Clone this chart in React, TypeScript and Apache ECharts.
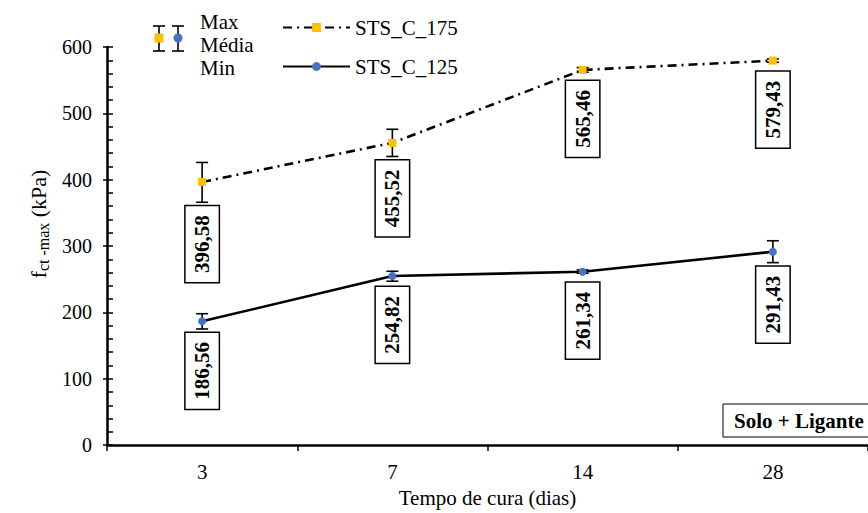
import React, { useEffect, useRef } from 'react';
import * as echarts from 'echarts';

const categories = ['3', '7', '14', '28'];
const sts175Mean = [396.58, 455.52, 565.46, 579.43];
const sts175Max = [426, 476, 569, 582];
const sts175Min = [366, 435, 562, 577];
const sts125Mean = [186.56, 254.82, 261.34, 291.43];
const sts125Max = [198, 262, 264, 308];
const sts125Min = [175, 247, 259, 275];
const yMin = 0;
const yMax = 600;
const yInterval = 100;

const FONT = '"Liberation Serif", "Times New Roman", serif';
const ORANGE = '#FFC000';
const BLUE = '#4472C4';

const fmt = (v: number) => v.toFixed(2).replace('.', ',');

function errorSeries(name: string, mean: number[], max: number[], min: number[]) {
  return {
    type: 'custom',
    name: name + ' err',
    silent: true,
    z: 1,
    encode: { x: 0, y: [1, 2, 3] },
    data: categories.map((_, i) => [i, mean[i], max[i], min[i]]),
    renderItem: (params: any, api: any) => {
      const x = api.value(0);
      const mid = api.coord([x, api.value(1)]);
      const top = api.coord([x, api.value(2)]);
      const bot = api.coord([x, api.value(3)]);
      const cap = 6;
      const st = { stroke: '#000', lineWidth: 1.6 };
      const boxTop = Math.max(mid[1] + 11, bot[1] + 4);
      return {
        type: 'group',
        children: [
          { type: 'line', shape: { x1: top[0], y1: top[1], x2: bot[0], y2: bot[1] }, style: st },
          { type: 'line', shape: { x1: top[0] - cap, y1: top[1], x2: top[0] + cap, y2: top[1] }, style: st },
          { type: 'line', shape: { x1: bot[0] - cap, y1: bot[1], x2: bot[0] + cap, y2: bot[1] }, style: st },
          {
            type: 'text',
            x: mid[0],
            y: boxTop,
            rotation: Math.PI / 2,
            style: {
              text: fmt(api.value(1)),
              font: 'bold 21px ' + FONT,
              fill: '#000',
              align: 'right',
              verticalAlign: 'middle',
              lineHeight: 21,
              backgroundColor: '#fff',
              borderColor: '#000',
              borderWidth: 1.5,
              padding: [6, 9, 6, 9],
            },
          },
        ],
      };
    },
  };
}

export default function App() {
  const ref = useRef<HTMLDivElement>(null);
  useEffect(() => {
    document.body.style.margin = '0';
    if (!ref.current) return;
    const chart = echarts.init(ref.current, null, { renderer: 'svg' });
    const axisBlack = { color: '#000' };
    chart.setOption({
      animation: false,
      backgroundColor: '#fff',
      grid: { left: 107, top: 47, width: 768, height: 407, containLabel: false },
      legend: [
        {
          data: ['STS_C_175'],
          left: 277,
          top: 12,
          itemWidth: 67,
          itemHeight: 11,
          textStyle: { fontFamily: FONT, fontSize: 21, color: '#000' },
          selectedMode: false,
        },
        {
          data: ['STS_C_125'],
          left: 277,
          top: 51,
          itemWidth: 67,
          itemHeight: 11,
          textStyle: { fontFamily: FONT, fontSize: 21, color: '#000' },
          selectedMode: false,
        },
      ],
      xAxis: {
        type: 'category',
        data: categories,
        boundaryGap: true,
        axisLine: { show: true, lineStyle: { color: '#000', width: 2.5 } },
        axisTick: { show: true, inside: false, length: 6, lineStyle: { color: '#000', width: 1.5 } },
        axisLabel: { color: '#000', fontFamily: FONT, fontSize: 21, margin: 16 },
        splitLine: { show: false },
        name: 'Tempo de cura (dias)',
        nameLocation: 'middle',
        nameGap: 35,
        nameTextStyle: { color: '#000', fontFamily: FONT, fontSize: 21 },
      },
      yAxis: [
        {
          type: 'value',
          min: yMin,
          max: yMax,
          interval: yInterval,
          axisLine: { show: true, lineStyle: { ...axisBlack, width: 2.5 } },
          axisTick: { show: true, inside: true, length: 6, lineStyle: { ...axisBlack, width: 1.5 } },
          minorTick: { show: true, splitNumber: 5, length: 6, lineStyle: { ...axisBlack, width: 1.5 } },
          splitLine: { show: false },
          axisLabel: { color: '#000', fontFamily: FONT, fontSize: 20, margin: 15 },
        },
        {
          type: 'value',
          position: 'left',
          min: yMin,
          max: yMax,
          interval: yInterval,
          axisLine: { show: false },
          axisTick: { show: true, inside: false, length: 4, lineStyle: { ...axisBlack, width: 1.5 } },
          splitLine: { show: false },
          axisLabel: { show: false },
        },
      ],
      series: [
        errorSeries('STS_C_175', sts175Mean, sts175Max, sts175Min),
        errorSeries('STS_C_125', sts125Mean, sts125Max, sts125Min),
        {
          name: 'STS_C_175',
          type: 'line',
          z: 2,
          data: sts175Mean,
          symbol: 'rect',
          symbolSize: 8,
          itemStyle: { color: ORANGE },
          lineStyle: { color: '#000', width: 2.6, type: [9, 5, 2, 5] },
        },
        {
          name: 'STS_C_125',
          type: 'line',
          z: 2,
          data: sts125Mean,
          symbol: 'circle',
          symbolSize: 8,
          itemStyle: { color: BLUE },
          lineStyle: { color: '#000', width: 2.6, type: 'solid' },
        },
      ],
      graphic: [
        // error bar legend
        { type: 'line', shape: { x1: 159, y1: 26, x2: 159, y2: 51 }, style: { stroke: '#000', lineWidth: 1.6 } },
        { type: 'line', shape: { x1: 153, y1: 26, x2: 165, y2: 26 }, style: { stroke: '#000', lineWidth: 1.6 } },
        { type: 'line', shape: { x1: 153, y1: 51, x2: 165, y2: 51 }, style: { stroke: '#000', lineWidth: 1.6 } },
        { type: 'rect', shape: { x: 154.5, y: 33.5, width: 9, height: 9 }, style: { fill: ORANGE } },
        { type: 'line', shape: { x1: 178, y1: 26, x2: 178, y2: 51 }, style: { stroke: '#000', lineWidth: 1.6 } },
        { type: 'line', shape: { x1: 172, y1: 26, x2: 184, y2: 26 }, style: { stroke: '#000', lineWidth: 1.6 } },
        { type: 'line', shape: { x1: 172, y1: 51, x2: 184, y2: 51 }, style: { stroke: '#000', lineWidth: 1.6 } },
        { type: 'circle', shape: { cx: 178, cy: 38, r: 4.5 }, style: { fill: BLUE } },
        { type: 'text', x: 200, y: 22, style: { text: 'Max', font: '21px ' + FONT, fill: '#000', verticalAlign: 'middle' } },
        { type: 'text', x: 200, y: 45, style: { text: 'Média', font: '21px ' + FONT, fill: '#000', verticalAlign: 'middle' } },
        { type: 'text', x: 200, y: 68, style: { text: 'Min', font: '21px ' + FONT, fill: '#000', verticalAlign: 'middle' } },
        // y axis title
        {
          type: 'text',
          x: 38,
          y: 224,
          rotation: Math.PI / 2,
          style: {
            text: '{m|f}{s|ct -max}{m| (kPa)}',
            align: 'center',
            verticalAlign: 'middle',
            fill: '#000',
            rich: {
              m: { fontFamily: FONT, fontSize: 22, lineHeight: 26, verticalAlign: 'middle', fill: '#000' },
              s: { fontFamily: FONT, fontSize: 16, lineHeight: 14, verticalAlign: 'bottom', fill: '#000' },
            },
          },
        },
        // Solo + Ligante box
        {
          type: 'rect',
          shape: { x: 723, y: 404, width: 160, height: 33 },
          style: { fill: '#fff', stroke: '#000', lineWidth: 1 },
          z: 10,
        },
        {
          type: 'text',
          x: 734,
          y: 421,
          z: 11,
          style: { text: 'Solo + Ligante', font: 'bold 21px ' + FONT, fill: '#000', verticalAlign: 'middle' },
        },
      ],
    });
    return () => chart.dispose();
  }, []);
  return <div ref={ref} style={{ width: 868, height: 513 }} />;
}
